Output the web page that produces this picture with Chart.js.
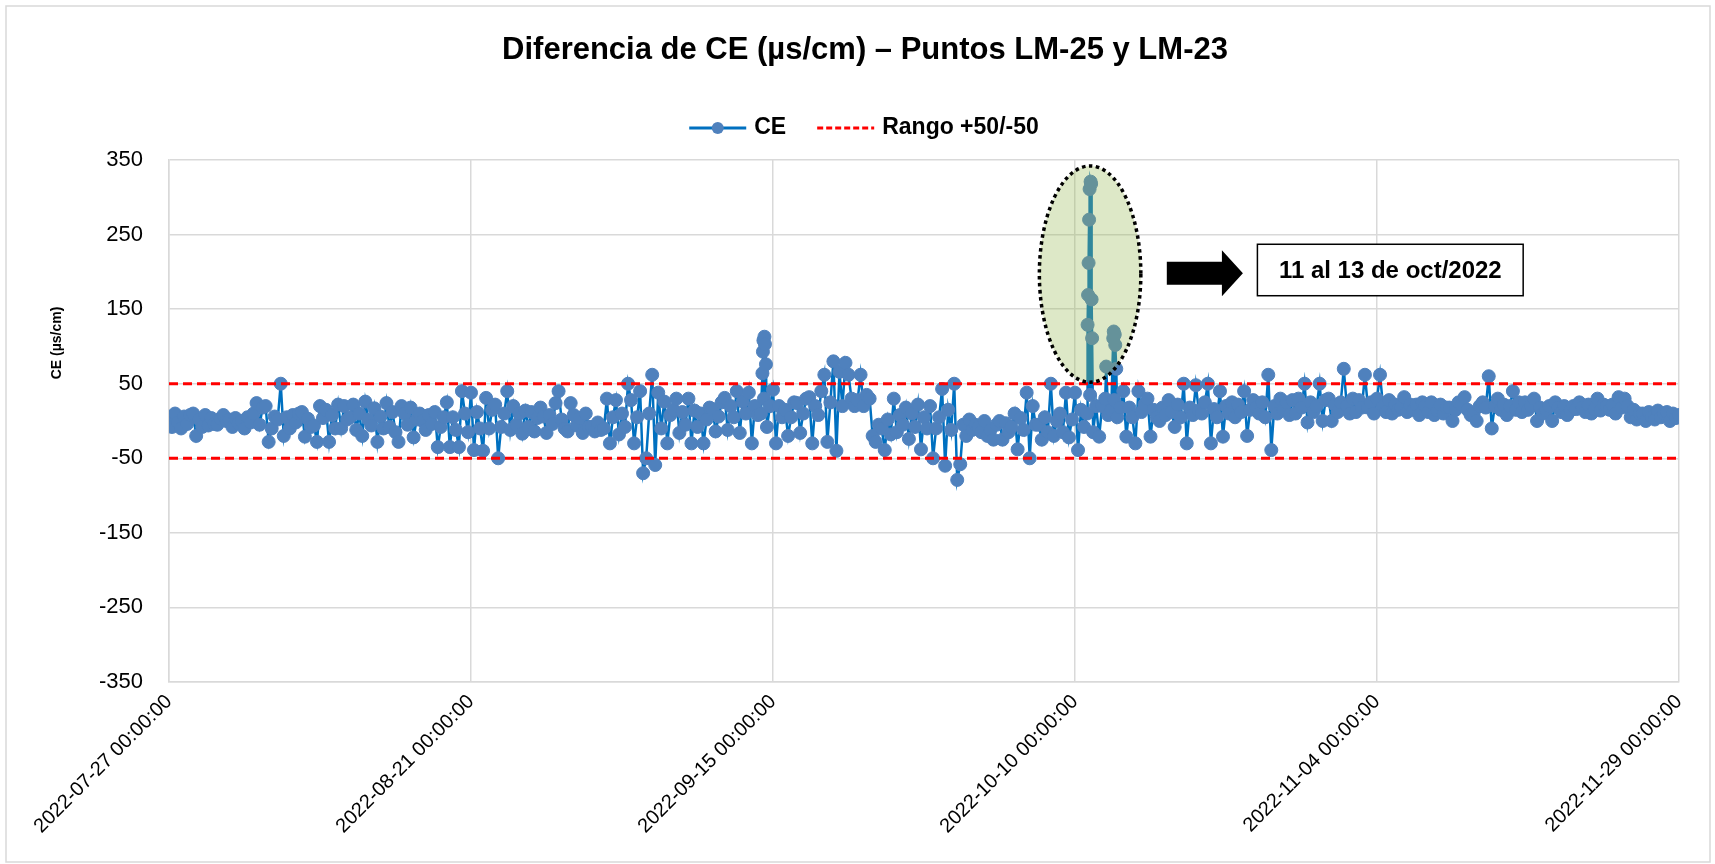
<!DOCTYPE html>
<html>
<head>
<meta charset="utf-8">
<script src="https://cdn.jsdelivr.net/npm/chart.js@4.4.1/dist/chart.umd.min.js"></script>
<style>
  html, body { margin: 0; padding: 0; background: #fff; }
  canvas { display: block; }
</style>
</head>
<body>
<canvas id="grafico" width="1715" height="864"></canvas>
<script>
// Diferencia de CE entre LM-25 y LM-23, lecturas cada 6 horas (00, 06, 12, 18 h)
var ceJul = [
  5, -8, 10, -2,  -10, 6, -4, 8,  10, -20, 2, -8,  8, -6, 4, -4,  -5, 3, 8, 0
];
var ceAgo = [
  2, -8, 4, -3,  0, -10, 5, -2,  10, 24, -5, 18,  20, -28, -10, 6,  2, 50, -20, 5,
  -10, 8, -2, 10,  12, -21, 3, -8,  -6, -28, 20, 4,  15, -28, 8, -10,  22, -10, 20, 2,
  5, 22, -12, 10,  -20, 26, 2, -6,  17, -28, 6, -10,  24, -8, 12, -15,  -28, 20, 10, -5,
  18, -22, 2, 10,  0, -12, 8, -4,  12, -35, -8, 5,  25, -35, 5, -12,  -35, 40, 10, -15,
  38, -39, 12, -10,  -40, 31, -10, 15,  22, -50, -8, 10,  40, -12, 20, -5,  10, -17, 14, -8,
  12, -14, 4, 18,  6, -16, 8, -4,  24, 40, 2, -10,  -14, 24, 8, -6,  4, -16, 10, -8,
  -8, -14, -2, -12
];
var ceSep = [
  -10, 30, -30, 5,  28, -18, 10, -8,  50, 28, -30, 5,  40, -70, -50, 10,  62, -59, 38, -10,
  26, -30, 8, 15,  30, -16, 12, -5,  30, -30, 14, -8,  10, -30, 2, 18,  16, -14, 6, 25,
  31, -12, 20, 5,  40, -16, 26, 10,  38, -30, 20, 8,  10, 30, -8, 20,  42, -30, 20, 5,
  15, -20, 5, 25,  24, -16, 10, 30,  32, -30, 20, 8,  40, 62, -28, 25,  80, -40, 66, 20,
  78, 62, 30, 20,  28, 62, 20, 35,  30, -20, -28, -5,  -10, -39, 2, -18,  30, -15, 8, -5,
  18, -24, 10, -8,  22, -38, 5, -10,  20, -50, -10, 5,  43, -60, 15, -12,  50, -79, -58, -5
];
var ceOct = [
  -20, 2, -12, -5,  -8, -15, 0, -20,  -12, -25, -5, 0,  -25, -3, -15, -8,  10, -38, 4, -12,
  38, -50, 20, -5,  -5, -25, 5, -15,  50, -20, 0, 10,  -15, 38, -22, 2,  38, -39, 15, -8,
  10, 35, -15, 20,  -21, 20, 30, 8,  15, 28, 5, 18,  40, -21, 18, 5,  -30, 40, 12, 22,
  30, -21, 15, 5,  0, 18, 8, 28,  12, -8, 22, 5,  50, -30, 18, 8,  48, 14, 10, 25,
  50, -30, 16, 5,  40, -21, 20, 10,  25, 5, 22, 12,  40, -20, 15, 28,  18, 10, 25, 5,
  62, -39, 20, 10,  30, 15, 25, 8,  28, 10, 30, 18,  50, -2, 25, 12,  20, 50, 0, 28,
  30, 0, 22, 12
];
var ceNov = [
  25, 70, 20, 10,  30, 12, 28, 18,  62, 18, 25, 10,  30, 62, 20, 12,  28, 10, 22, 15,
  18, 32, 12, 22,  15, 22, 8, 25,  20, 12, 25, 8,  14, 22, 10, 18,  18, 0, 15, 25,
  22, 32, 15, 8,  10, 0, 20, 25,  18, 60, -10, 20,  30, 15, 22, 8,  20, 40, 15, 25,
  12, 25, 15, 20,  30, 0, 18, 10,  15, 20, 0, 25,  18, 12, 20, 8,  14, 20, 16, 25,
  18, 12, 22, 10,  16, 30, 14, 22,  20, 15, 22, 10,  32, 18, 30, 20,  5, 15, 2, 10,
  10, 0, 12, 5,  2, 14, 5, 10,  12, 0, 10, 4,
  8
];
var seriesStart = ['2022-07-27', '2022-08-01', '2022-09-01', '2022-10-01', '2022-11-01'];

// lecturas horarias en los episodios altos
var eventTimes = [
  '2022-09-14 03:00', '2022-09-14 04:00', '2022-09-14 05:00', '2022-09-14 07:00', '2022-09-14 08:00', '2022-09-14 10:00',
  '2022-10-11 01:00', '2022-10-11 02:00', '2022-10-11 03:00', '2022-10-11 04:00', '2022-10-11 05:00',
  '2022-10-11 07:00', '2022-10-11 08:00', '2022-10-11 09:00', '2022-10-11 10:00',
  '2022-10-12 14:00', '2022-10-13 04:00', '2022-10-13 05:00', '2022-10-13 07:00', '2022-10-13 08:00', '2022-10-13 10:00'
];
var eventValues = [64, 93, 108, 113, 103, 76, 129, 169, 212, 270, 311, 321, 318, 163, 111, 73, 111, 120, 116, 102, 70];

var rangoSup = 50;
var rangoInf = -50;
var xTickLabels = ['2022-07-27 00:00:00', '2022-08-21 00:00:00', '2022-09-15 00:00:00',
                   '2022-10-10 00:00:00', '2022-11-04 00:00:00', '2022-11-29 00:00:00'];

var FONT = "'Liberation Sans', Arial, sans-serif";
var t0 = Date.UTC(2022, 6, 27);

function dayOffset(s) {
    var parts = s.split(' ');
    var d = parts[0].split('-').map(Number);
    var h = (parts[1] || '00:00').split(':').map(Number);
    return (Date.UTC(d[0], d[1] - 1, d[2], h[0], h[1]) - t0) / 86400000;
}

function buildSeries() {
    var points = [];
    [ceJul, ceAgo, ceSep, ceOct, ceNov].forEach(function(arr, k) {
        var start = dayOffset(seriesStart[k]);
        arr.forEach(function(v, i) {
            points.push({x: start + i / 4, y: v});
        });
    });
    eventTimes.forEach(function(t, i) {
        points.push({x: dayOffset(t), y: eventValues[i]});
    });
    points.sort(function(a, b) { return a.x - b.x; });
    return points;
}

var lastDay = dayOffset('2022-11-29');

// marco, titulo, leyenda y titulo del eje
var marco = {
    id: 'marco',
    beforeDraw: function(chart) {
        var ctx = chart.ctx;
        ctx.save();
        ctx.fillStyle = '#fff';
        ctx.fillRect(0, 0, chart.width, chart.height);
        ctx.strokeStyle = '#d9d9d9';
        ctx.lineWidth = 1.5;
        ctx.strokeRect(6, 6, 1704, 856);
        ctx.restore();
    },
    afterDraw: function(chart) {
        var ctx = chart.ctx;
        ctx.save();
        ctx.fillStyle = '#000';
        ctx.textBaseline = 'middle';

        ctx.font = 'bold 31px ' + FONT;
        ctx.textAlign = 'center';
        ctx.fillText('Diferencia de CE (\u00b5s/cm) \u2013 Puntos LM-25 y LM-23', 865, 50);

        // leyenda
        ctx.font = 'bold 23px ' + FONT;
        var t1 = 'CE', t2 = 'Rango +50/-50';
        var sym = 57, gap = 8, sep = 31;
        var total = sym + gap + ctx.measureText(t1).width + sep + sym + gap + ctx.measureText(t2).width;
        var lx = 864 - total / 2, ly = 128;
        ctx.strokeStyle = '#0070C0';
        ctx.lineWidth = 3;
        ctx.beginPath(); ctx.moveTo(lx, ly); ctx.lineTo(lx + sym, ly); ctx.stroke();
        ctx.fillStyle = '#4F81BD';
        ctx.beginPath(); ctx.arc(lx + sym / 2, ly, 6, 0, Math.PI * 2); ctx.fill();
        ctx.fillStyle = '#000';
        ctx.textAlign = 'left';
        lx += sym + gap;
        ctx.fillText(t1, lx, ly);
        lx += ctx.measureText(t1).width + sep;
        ctx.strokeStyle = '#FF0000';
        ctx.setLineDash([6, 3]);
        ctx.beginPath(); ctx.moveTo(lx, ly); ctx.lineTo(lx + sym, ly); ctx.stroke();
        ctx.setLineDash([]);
        lx += sym + gap;
        ctx.fillText(t2, lx, ly);

        // titulo eje Y
        ctx.translate(57, 343);
        ctx.rotate(-Math.PI / 2);
        ctx.font = 'bold 14px ' + FONT;
        ctx.textAlign = 'center';
        ctx.fillText('CE (\u00b5s/cm)', 0, 0);
        ctx.restore();
    }
};

// elipse, flecha y recuadro del episodio de octubre
var nota = {
    id: 'nota',
    afterDatasetsDraw: function(chart) {
        var ctx = chart.ctx, x = chart.scales.x, y = chart.scales.y;
        ctx.save();

        var cx = x.getPixelForValue(76.25), cy = y.getPixelForValue(197);
        var rx = x.getPixelForValue(80.45) - cx, ry = cy - y.getPixelForValue(342);
        ctx.beginPath();
        ctx.ellipse(cx, cy, rx, ry, 0, 0, Math.PI * 2);
        ctx.fillStyle = 'rgba(150,185,80,0.32)';
        ctx.fill();
        ctx.strokeStyle = '#000';
        ctx.lineWidth = 3.5;
        ctx.setLineDash([3.5, 3.5]);
        ctx.stroke();
        ctx.setLineDash([]);

        var ax1 = x.getPixelForValue(82.6), ax2 = x.getPixelForValue(88.9), ay = y.getPixelForValue(198);
        ctx.fillStyle = '#000';
        ctx.beginPath();
        ctx.moveTo(ax1, ay - 11.5);
        ctx.lineTo(ax2 - 21, ay - 11.5);
        ctx.lineTo(ax2 - 21, ay - 23);
        ctx.lineTo(ax2, ay);
        ctx.lineTo(ax2 - 21, ay + 23);
        ctx.lineTo(ax2 - 21, ay + 11.5);
        ctx.lineTo(ax1, ay + 11.5);
        ctx.closePath();
        ctx.fill();

        var bx1 = x.getPixelForValue(90.1), bx2 = x.getPixelForValue(112.1);
        var by1 = y.getPixelForValue(237), by2 = y.getPixelForValue(168);
        ctx.fillStyle = '#fff';
        ctx.fillRect(bx1, by1, bx2 - bx1, by2 - by1);
        ctx.strokeStyle = '#000';
        ctx.lineWidth = 1.5;
        ctx.strokeRect(bx1, by1, bx2 - bx1, by2 - by1);
        ctx.fillStyle = '#000';
        ctx.font = 'bold 24px ' + FONT;
        ctx.textAlign = 'center';
        ctx.textBaseline = 'middle';
        ctx.fillText('11 al 13 de oct/2022', (bx1 + bx2) / 2, (by1 + by2) / 2 + 1);
        ctx.restore();
    }
};

var chartObject = document.getElementById('grafico').getContext('2d');

new Chart(chartObject, {
    type: 'line',
    data: {
        datasets: [
            {
                label: 'CE',
                data: buildSeries(),
                borderColor: '#0070C0',
                borderWidth: 2.5,
                pointRadius: 6.5,
                pointBorderWidth: 1,
                pointBackgroundColor: '#4F81BD',
                pointBorderColor: '#4F81BD',
                tension: 0,
                order: 2
            },
            {
                label: 'Rango +50/-50',
                data: [{x: 0, y: rangoSup}, {x: lastDay, y: rangoSup}],
                borderColor: '#FF0000',
                borderWidth: 3,
                borderDash: [9, 5],
                pointRadius: 0,
                order: 1
            },
            {
                label: 'Rango inferior',
                data: [{x: 0, y: rangoInf}, {x: lastDay, y: rangoInf}],
                borderColor: '#FF0000',
                borderWidth: 3,
                borderDash: [9, 5],
                pointRadius: 0,
                order: 1
            }
        ]
    },
    options: {
        responsive: false,
        animation: false,
        devicePixelRatio: 1,
        layout: { padding: { top: 160, right: 36, left: 0, bottom: 0 } },
        plugins: {
            legend: { display: false },
            title: { display: false },
            tooltip: { enabled: false }
        },
        scales: {
            x: {
                type: 'linear',
                min: 0,
                max: lastDay,
                afterFit: function(s) { s.height = 182; },
                ticks: {
                    stepSize: 25,
                    autoSkip: false,
                    minRotation: 45,
                    maxRotation: 45,
                    padding: 8,
                    color: '#000',
                    font: { family: FONT, size: 20 },
                    callback: function(v) { return xTickLabels[Math.round(v / 25)]; }
                },
                grid: { color: '#d9d9d9', lineWidth: 1.5, drawTicks: false },
                border: { color: '#d9d9d9', width: 1.5 }
            },
            y: {
                min: -350,
                max: 350,
                afterFit: function(s) { s.width = 169; },
                ticks: {
                    stepSize: 100,
                    padding: 26,
                    color: '#000',
                    font: { family: FONT, size: 22 }
                },
                grid: {
                    drawTicks: false,
                    color: function(c) { return c.tick && c.tick.value === 0 ? '#bfbfbf' : '#d9d9d9'; },
                    lineWidth: function(c) { return c.tick && c.tick.value === 0 ? 2 : 1.5; }
                },
                border: { color: '#d9d9d9', width: 1.5 }
            }
        }
    },
    plugins: [marco, nota]
});
</script>
</body>
</html>
